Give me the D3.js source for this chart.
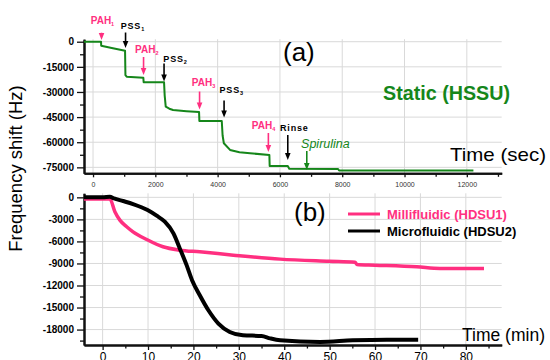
<!DOCTYPE html>
<html><head><meta charset="utf-8">
<script src="https://cdn.jsdelivr.net/npm/d3@7"></script>
<style>body{margin:0;background:#fff} svg{display:block} text{font-family:"Liberation Sans",Arial,sans-serif}</style>
</head><body><svg id="c" width="550" height="360"></svg>
<script>
// ---------- data: panel (a) static HSSU ----------
const staticTime  = [-290, 257, 262, 600, 1028, 1040, 1080, 1615, 1625, 2280, 2300, 2334, 2450, 2569, 3000, 3404, 3414, 4133, 4160, 4200, 4399, 4700, 5041, 5661, 5671, 6252, 6300, 7867, 7900, 12212];
const staticShift = [0, 0, -2400, -3800, -5400, -20000, -20900, -21500, -24200, -24200, -32000, -38800, -40000, -40800, -41500, -42000, -47300, -47300, -56000, -60600, -64600, -66000, -66600, -67600, -74200, -74200, -75800, -76000, -76900, -76900];
const aTicks = [0, 2000, 4000, 6000, 8000, 10000, 12000];
const aYTicks = [0, -15000, -30000, -45000, -60000, -75000];

// annotations of panel (a)
const annoName = ["PAH", "PSS", "PAH", "PSS", "PAH", "PSS", "PAH", "Rinse", "Spirulina"];
const annoSub  = ["1", "1", "2", "2", "3", "3", "4", "", ""];
const annoKind = ["pah", "pss", "pah", "pss", "pah", "pss", "pah", "pss", "cell"];
const annoTime = [273, 1044, 1622, 2280, 3420, 4207, 5629, 6252, 6862];
const annoTail = [5370, 5490, -9130, -13010, -29730, -35100, -54500, -55690, -65240];
const annoTip  = [1010, -3760, -19880, -23760, -40470, -45250, -65840, -70610, -76580];

// ---------- data: panel (b) dynamic ----------
const milliTime  = [-4.1, 1.6, 2.7, 3.8, 5.3, 6.7, 9.7, 13.3, 17.0, 21.4, 28.8, 39.1, 49.9, 55.6, 56.0, 60, 69.2, 74.3, 84];
const milliShift = [-230, -230, -1960, -3100, -4000, -4690, -5730, -6730, -7190, -7420, -7870, -8410, -8690, -8820, -9140, -9230, -9460, -9680, -9680];
const microTime  = [-4.1, 0, 1.6, 2.5, 4.5, 6.7, 9.9, 11.9, 13.7, 15.6, 17.0, 18.5, 19.7, 21.4, 23.3, 25.5, 28.0, 30.9, 35.0, 36.9, 39.1, 47.9, 55.1, 62.6, 69.5];
const microShift = [0, 0, 80, -150, -500, -910, -1730, -2500, -3320, -4900, -6950, -9230, -11280, -13320, -15370, -17180, -18320, -18770, -18870, -19200, -19460, -19680, -19460, -19370, -19370];
const bTicks = [0, 10, 20, 30, 40, 50, 60, 70, 80];
const bYTicks = [0, -3000, -6000, -9000, -12000, -15000, -18000];
const seriesNames = ["Millifluidic (HDSU1)", "Microfluidic (HDSU2)"];

// ---------- styles ----------
const GREEN = "#15861a", PINK = "#ff2f80", BLACK = "#000";
const kindColor = {pah: PINK, pss: "#000", cell: GREEN};
const GRID = "#d9d9d9";

const svg = d3.select("#c");
const L = 84, R = 501.7;

// scales
const xA = d3.scaleLinear().domain([-290, 13120]).range([L, R]);
const yA = d3.scaleLinear().domain([-78550, 1500]).range([173.3, 39.2]);
const xB = d3.scaleLinear().domain([-4.1, 87.9]).range([L, R]);
const yB = d3.scaleLinear().domain([-20100, 550]).range([345, 193.3]);

function grid(x, y, xt, yt) {
  const g = svg.append("g");
  const [y0, y1] = y.range();
  g.selectAll("line.h").data(yt).join("line")
    .attr("x1", L).attr("x2", R).attr("y1", d => y(d)).attr("y2", d => y(d))
    .attr("stroke", GRID).attr("stroke-width", 1);
  g.selectAll("line.v").data(xt).join("line")
    .attr("x1", d => x(d)).attr("x2", d => x(d)).attr("y1", y1).attr("y2", y0)
    .attr("stroke", GRID).attr("stroke-width", 1);
}
grid(xA, yA, aTicks, aYTicks);
grid(xB, yB, bTicks, bYTicks);

function styleAxis(g, size, weight, fill) {
  g.select(".domain").attr("stroke", "#111").attr("stroke-width", 2);
  g.selectAll(".tick line").attr("stroke", "#111").attr("stroke-width", 1.3);
  g.selectAll("text").attr("font-size", size).attr("font-weight", weight).attr("fill", fill)
    .attr("font-family", '"Liberation Sans",Arial,sans-serif');
}

// panel (a) axes
const ayMinor = aYTicks.map(d => d - 7500).filter(d => d > -78550);
svg.append("g").attr("transform", `translate(${L},0)`)
  .call(d3.axisLeft(yA).tickValues(ayMinor).tickSize(4).tickFormat("").tickSizeOuter(0))
  .call(g => styleAxis(g, 10, "bold", "#000"));
svg.append("g").attr("transform", `translate(${L},0)`)
  .call(d3.axisLeft(yA).tickValues(aYTicks).tickSize(7).tickPadding(3).tickFormat(d => String(d)).tickSizeOuter(0))
  .call(g => styleAxis(g, 10, "bold", "#000"));
const axMinor = aTicks.map(d => d + 1000).filter(d => d < 13120);
svg.append("g").attr("transform", `translate(0,${yA.range()[0]})`)
  .call(d3.axisBottom(xA).tickValues(axMinor).tickSize(3.5).tickFormat("").tickSizeOuter(0))
  .call(g => styleAxis(g, 7, "normal", "#333"));
svg.append("g").attr("transform", `translate(0,${yA.range()[0]})`)
  .call(d3.axisBottom(xA).tickValues(aTicks).tickSize(4).tickPadding(5).tickFormat(d => String(d)).tickSizeOuter(0))
  .call(g => styleAxis(g, 7, "normal", "#333"));

// panel (b) axes
const byMinor = bYTicks.map(d => d - 1500).filter(d => d > -20100);
svg.append("g").attr("transform", `translate(${L},0)`)
  .call(d3.axisLeft(yB).tickValues(byMinor).tickSize(4).tickFormat("").tickSizeOuter(0))
  .call(g => styleAxis(g, 10, "bold", "#000"));
svg.append("g").attr("transform", `translate(${L},0)`)
  .call(d3.axisLeft(yB).tickValues(bYTicks).tickSize(7).tickPadding(3).tickFormat(d => String(d)).tickSizeOuter(0))
  .call(g => styleAxis(g, 10, "bold", "#000"));
const bxMinor = bTicks.map(d => d + 5).filter(d => d < 87.9);
svg.append("g").attr("transform", `translate(0,${yB.range()[0]})`)
  .call(d3.axisBottom(xB).tickValues(bxMinor).tickSize(3.5).tickFormat("").tickSizeOuter(0))
  .call(g => styleAxis(g, 12, "normal", "#000"));
svg.append("g").attr("transform", `translate(0,${yB.range()[0]})`)
  .call(d3.axisBottom(xB).tickValues(bTicks).tickSize(5).tickPadding(2).tickFormat(d => String(d)).tickSizeOuter(0))
  .call(g => styleAxis(g, 12, "normal", "#000"));

// ---------- lines ----------
const lineA = d3.line().x(d => xA(d[0])).y(d => yA(d[1]));
svg.append("path").datum(d3.zip(staticTime, staticShift))
  .attr("d", lineA).attr("fill", "none").attr("stroke", GREEN).attr("stroke-width", 2)
  .attr("stroke-linejoin", "round");

const lineB = d3.line().x(d => xB(d[0])).y(d => yB(d[1])).curve(d3.curveMonotoneX);
svg.append("path").datum(d3.zip(milliTime, milliShift))
  .attr("d", lineB).attr("fill", "none").attr("stroke", PINK).attr("stroke-width", 3.5)
  .attr("stroke-linejoin", "round");
svg.append("path").datum(d3.zip(microTime, microShift))
  .attr("d", lineB).attr("fill", "none").attr("stroke", BLACK).attr("stroke-width", 4)
  .attr("stroke-linejoin", "round");

// ---------- annotations ----------
const labelDx = [-10.8, -4.8, -8.5, -0.7, -7.8, -4.5, -16.6, -7.7, -5.7];
const labelDy = [-9.2, -3.5, -4.5, -1.5, -5.5, -7.5, -4.5, -4, -3];
annoName.forEach((name, i) => {
  const c = kindColor[annoKind[i]];
  const x = xA(annoTime[i]), yt = yA(annoTail[i]), yp = yA(annoTip[i]);
  const g = svg.append("g");
  g.append("line").attr("x1", x).attr("x2", x).attr("y1", yt).attr("y2", yp - 5)
    .attr("stroke", c).attr("stroke-width", 1.6);
  g.append("path").attr("d", `M${x - 2.8},${yp - 7}L${x + 2.8},${yp - 7}L${x},${yp}Z`).attr("fill", c);
  const t = g.append("text").attr("x", x + labelDx[i]).attr("y", yt + labelDy[i]).attr("fill", c);
  if (annoKind[i] === "cell") {
    t.attr("font-size", 12.5).attr("font-style", "italic").text(name);
  } else {
    t.attr("font-size", annoKind[i] === "pah" ? 10 : 9).attr("font-weight", "bold")
      .attr("letter-spacing", annoKind[i] === "pah" ? 0 : 0.8);
    t.append("tspan").text(name);
    if (annoSub[i]) t.append("tspan").attr("font-size", 5.5).attr("dy", 2).attr("letter-spacing", 0).text(annoSub[i]);
  }
});

// ---------- texts ----------
svg.append("text").attr("transform", "translate(22,168.5) rotate(-90)").attr("text-anchor", "middle")
  .attr("font-size", 18.5).attr("fill", "#000").text("Frequency shift (Hz)");
svg.append("text").attr("x", 283).attr("y", 61).attr("font-size", 26).attr("fill", "#000").text("(a)");
svg.append("text").attr("x", 294).attr("y", 221).attr("font-size", 26).attr("fill", "#000").text("(b)");
svg.append("text").attr("x", 383).attr("y", 100).attr("font-size", 19.5).attr("font-weight", "bold")
  .attr("fill", GREEN).attr("textLength", 127).attr("lengthAdjust", "spacingAndGlyphs").text("Static (HSSU)");
svg.append("text").attr("x", 450).attr("y", 161).attr("font-size", 19).attr("fill", "#000")
  .attr("textLength", 96).attr("lengthAdjust", "spacingAndGlyphs").text("Time (sec)");
svg.append("text").attr("x", 462).attr("y", 341).attr("font-size", 17.5).attr("fill", "#000")
  .attr("textLength", 83).attr("lengthAdjust", "spacingAndGlyphs").text("Time (min)");

// legend
const legColors = [PINK, BLACK];
seriesNames.forEach((n, i) => {
  const y = 214 + i * 17;
  svg.append("line").attr("x1", 348).attr("x2", 380).attr("y1", y).attr("y2", y)
    .attr("stroke", legColors[i]).attr("stroke-width", 3);
  svg.append("text").attr("x", 387).attr("y", y + 4.5).attr("font-size", 13).attr("font-weight", "bold")
    .attr("fill", legColors[i]).text(n);
});
</script></body></html>
